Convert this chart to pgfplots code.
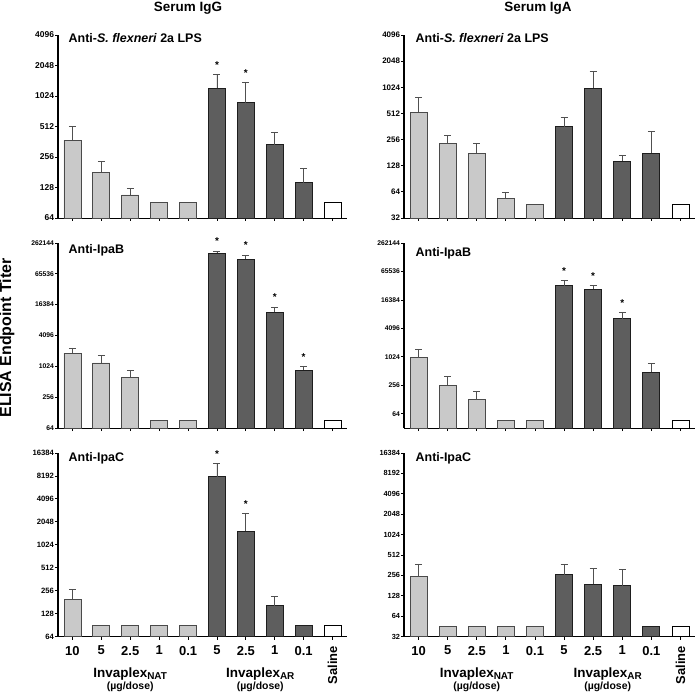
\documentclass[border=0pt]{standalone}
\usepackage{fontspec}
\setmainfont{Liberation Sans}
\usepackage{pgfplots}
\pgfplotsset{compat=1.18}
\definecolor{lightg}{HTML}{C9C9C9}
\definecolor{ledge}{HTML}{4A4A4A}
\definecolor{darkg}{HTML}{5E5E5E}
\definecolor{dedge}{HTML}{1E1E1E}
\definecolor{errc}{HTML}{505050}
\newcommand{\plab}{\fontsize{12.5}{12.5}\selectfont\bfseries}
\newcommand{\xlab}{\fontsize{13}{13}\selectfont\bfseries}
\newcommand{\ulab}{\fontsize{10.5}{11}\selectfont\bfseries}
\newcommand{\invlab}{\fontsize{13.5}{13.5}\selectfont\bfseries}
\begin{document}
\begin{tikzpicture}
\useasboundingbox (0,0) rectangle (696bp,-695bp);
\node[font=\fontsize{13.5}{13.5}\selectfont\bfseries] at (188bp,-8bp) {Serum IgG};
\node[font=\fontsize{13.5}{13.5}\selectfont\bfseries] at (538bp,-8bp) {Serum IgA};
\node[rotate=90, font=\fontsize{16}{16}\selectfont\bfseries] at (7bp,-338bp) {ELISA Endpoint Titer};

% ---------- Panel 1: IgG anti-LPS
\begin{axis}[scale only axis, anchor=south west, at={(58bp,-218bp)}, width=289bp, height=183bp,
  ymode=log, log basis y=2, log origin=infty, xmin=-0.5, xmax=9.5, ymin=64, ymax=4096,
  axis x line=bottom, axis y line=left, axis line style={-, line width=1pt, black},
  tick align=outside, major tick length=3bp, tick style={black, line width=0.8pt},
  xtick={0,...,9}, xticklabels={},
  ytick={64,128,256,512,1024,2048,4096},
  yticklabels={64,128,256,512,1024,2048,4096},
  yticklabel style={font=\fontsize{8.5}{9}\selectfont\bfseries, inner sep=0.8pt},
  clip=false]
\addplot[ybar, bar shift=0pt, bar width=17bp, fill=lightg, draw=ledge, line width=0.9pt,
  error bars/y dir=plus, error bars/y explicit,
  error bars/error bar style={errc, line width=0.9pt},
  error bars/error mark options={rotate=90, errc, line width=0.9pt, mark size=3.5bp}]
  coordinates {(0,375) +- (0,140) (1,180) +- (0,49) (2,108) +- (0,17)};
\addplot[ybar, bar shift=0pt, bar width=17bp, fill=lightg, draw=ledge, line width=0.9pt]
  coordinates {(3,90.5) (4,90.5)};
\addplot[ybar, bar shift=0pt, bar width=17bp, fill=darkg, draw=dedge, line width=0.9pt,
  error bars/y dir=plus, error bars/y explicit,
  error bars/error bar style={errc, line width=0.9pt},
  error bars/error mark options={rotate=90, errc, line width=0.9pt, mark size=3.5bp}]
  coordinates {(5,1218) +- (0,455) (6,880) +- (0,500) (7,340) +- (0,106) (8,143) +- (0,54)};
\addplot[ybar, bar shift=0pt, bar width=17bp, fill=white, draw=black, line width=0.9pt]
  coordinates {(9,90.5)};
\addplot[draw=none, mark=none, nodes near coords={*},
  every node near coord/.append style={anchor=south, inner sep=0pt, yshift=6bp, font=\fontsize{10}{10}\selectfont\bfseries}]
  coordinates {(5,1673) (6,1380)};
\node[anchor=west, font=\plab] at (rel axis cs:0.025,0.985) {Anti-\textit{S. flexneri} 2a LPS};
\draw[line width=1.1pt, black] (axis cs:-0.5,64) -- (axis cs:-0.5,4096);
\end{axis}

% ---------- Panel 2: IgA anti-LPS
\begin{axis}[scale only axis, anchor=south west, at={(404bp,-218bp)}, width=291bp, height=183bp,
  ymode=log, log basis y=2, log origin=infty, xmin=-0.5, xmax=9.5, ymin=32, ymax=4096,
  axis x line=bottom, axis y line=left, axis line style={-, line width=1pt, black},
  tick align=outside, major tick length=3bp, tick style={black, line width=0.8pt},
  xtick={0,...,9}, xticklabels={},
  ytick={32,64,128,256,512,1024,2048,4096},
  yticklabels={32,64,128,256,512,1024,2048,4096},
  yticklabel style={font=\fontsize{8}{8.5}\selectfont\bfseries, inner sep=0.8pt},
  clip=false]
\addplot[ybar, bar shift=0pt, bar width=17bp, fill=lightg, draw=ledge, line width=0.9pt,
  error bars/y dir=plus, error bars/y explicit,
  error bars/error bar style={errc, line width=0.9pt},
  error bars/error mark options={rotate=90, errc, line width=0.9pt, mark size=3.5bp}]
  coordinates {(0,526) +- (0,256) (1,233) +- (0,55) (2,179) +- (0,50) (3,54) +- (0,9)};
\addplot[ybar, bar shift=0pt, bar width=17bp, fill=lightg, draw=ledge, line width=0.9pt]
  coordinates {(4,45.25)};
\addplot[ybar, bar shift=0pt, bar width=17bp, fill=darkg, draw=dedge, line width=0.9pt,
  error bars/y dir=plus, error bars/y explicit,
  error bars/error bar style={errc, line width=0.9pt},
  error bars/error mark options={rotate=90, errc, line width=0.9pt, mark size=3.5bp}]
  coordinates {(5,362) +- (0,103) (6,1002) +- (0,543) (7,145) +- (0,22) (8,179) +- (0,139)};
\addplot[ybar, bar shift=0pt, bar width=17bp, fill=white, draw=black, line width=0.9pt]
  coordinates {(9,45.25)};
\node[anchor=west, font=\plab] at (rel axis cs:0.028,0.985) {Anti-\textit{S. flexneri} 2a LPS};
\draw[line width=1.1pt, black] (axis cs:-0.5,32) -- (axis cs:-0.5,4096);
\end{axis}

% ---------- Panel 3: IgG anti-IpaB
\begin{axis}[scale only axis, anchor=south west, at={(58bp,-428bp)}, width=289bp, height=185bp,
  ymode=log, log basis y=2, log origin=infty, xmin=-0.5, xmax=9.5, ymin=64, ymax=262144,
  axis x line=bottom, axis y line=left, axis line style={-, line width=1pt, black},
  tick align=outside, major tick length=3bp, tick style={black, line width=0.8pt},
  xtick={0,...,9}, xticklabels={},
  ytick={64,256,1024,4096,16384,65536,262144},
  yticklabels={64,256,1024,4096,16384,65536,262144},
  yticklabel style={font=\fontsize{6.8}{7}\selectfont\bfseries, inner sep=0.8pt},
  clip=false]
\addplot[ybar, bar shift=0pt, bar width=17bp, fill=lightg, draw=ledge, line width=0.9pt,
  error bars/y dir=plus, error bars/y explicit,
  error bars/error bar style={errc, line width=0.9pt},
  error bars/error mark options={rotate=90, errc, line width=0.9pt, mark size=3.5bp}]
  coordinates {(0,1862) +- (0,474) (1,1190) +- (0,464) (2,625) +- (0,219)};
\addplot[ybar, bar shift=0pt, bar width=17bp, fill=lightg, draw=ledge, line width=0.9pt]
  coordinates {(3,90.5) (4,90.5)};
\addplot[ybar, bar shift=0pt, bar width=17bp, fill=darkg, draw=dedge, line width=0.9pt,
  error bars/y dir=plus, error bars/y explicit,
  error bars/error bar style={errc, line width=0.9pt},
  error bars/error mark options={rotate=90, errc, line width=0.9pt, mark size=3.5bp}]
  coordinates {(5,167000) +- (0,15800) (6,127500) +- (0,25100) (7,11590) +- (0,3140) (8,868) +- (0,156)};
\addplot[ybar, bar shift=0pt, bar width=17bp, fill=white, draw=black, line width=0.9pt]
  coordinates {(9,90.5)};
\addplot[draw=none, mark=none, nodes near coords={*},
  every node near coord/.append style={anchor=south, inner sep=0pt, yshift=6bp, font=\fontsize{10}{10}\selectfont\bfseries}]
  coordinates {(5,182800) (6,152600) (7,14730) (8,1024)};
\node[anchor=west, font=\plab] at (rel axis cs:0.025,0.96) {Anti-IpaB};
\draw[line width=1.1pt, black] (axis cs:-0.5,64) -- (axis cs:-0.5,262144);
\end{axis}

% ---------- Panel 4: IgA anti-IpaB
\begin{axis}[scale only axis, anchor=south west, at={(404bp,-428bp)}, width=291bp, height=185bp,
  ymode=log, log basis y=2, log origin=infty, xmin=-0.5, xmax=9.5, ymin=32, ymax=262144,
  axis x line=bottom, axis y line=left, axis line style={-, line width=1pt, black},
  tick align=outside, major tick length=3bp, tick style={black, line width=0.8pt},
  xtick={0,...,9}, xticklabels={},
  ytick={64,256,1024,4096,16384,65536,262144},
  yticklabels={64,256,1024,4096,16384,65536,262144},
  yticklabel style={font=\fontsize{6.8}{7}\selectfont\bfseries, inner sep=0.8pt},
  clip=false]
\addplot[ybar, bar shift=0pt, bar width=17bp, fill=lightg, draw=ledge, line width=0.9pt,
  error bars/y dir=plus, error bars/y explicit,
  error bars/error bar style={errc, line width=0.9pt},
  error bars/error mark options={rotate=90, errc, line width=0.9pt, mark size=3.5bp}]
  coordinates {(0,982) +- (0,496) (1,254) +- (0,134) (2,126) +- (0,60)};
\addplot[ybar, bar shift=0pt, bar width=17bp, fill=lightg, draw=ledge, line width=0.9pt]
  coordinates {(3,45.25) (4,45.25)};
\addplot[ybar, bar shift=0pt, bar width=17bp, fill=darkg, draw=dedge, line width=0.9pt,
  error bars/y dir=plus, error bars/y explicit,
  error bars/error bar style={errc, line width=0.9pt},
  error bars/error mark options={rotate=90, errc, line width=0.9pt, mark size=3.5bp}]
  coordinates {(5,32768) +- (0,8992) (6,27800) +- (0,4968) (7,6630) +- (0,2260) (8,480) +- (0,253)};
\addplot[ybar, bar shift=0pt, bar width=17bp, fill=white, draw=black, line width=0.9pt]
  coordinates {(9,45.25)};
\addplot[draw=none, mark=none, nodes near coords={*},
  every node near coord/.append style={anchor=south, inner sep=0pt, yshift=6bp, font=\fontsize{10}{10}\selectfont\bfseries}]
  coordinates {(5,41760) (6,32768) (7,8890)};
\node[anchor=west, font=\plab] at (rel axis cs:0.028,0.945) {Anti-IpaB};
\draw[line width=1.1pt, black] (axis cs:-0.5,32) -- (axis cs:-0.5,262144);
\end{axis}

% ---------- Panel 5: IgG anti-IpaC
\begin{axis}[scale only axis, anchor=south west, at={(58bp,-636.5bp)}, width=289bp, height=183.5bp,
  ymode=log, log basis y=2, log origin=infty, xmin=-0.5, xmax=9.5, ymin=64, ymax=16384,
  axis x line=bottom, axis y line=left, axis line style={-, line width=1pt, black},
  tick align=outside, major tick length=3bp, tick style={black, line width=0.8pt},
  xtick={0,...,8}, xticklabels={10,5,2.5,1,0.1,5,2.5,1,0.1},
  xticklabel style={font=\xlab, yshift=-3bp},
  extra x ticks={9}, extra x tick labels={Saline},
  extra x tick style={xticklabel style={rotate=90, anchor=east, font=\xlab}},
  ytick={64,128,256,512,1024,2048,4096,8192,16384},
  yticklabels={64,128,256,512,1024,2048,4096,8192,16384},
  yticklabel style={font=\fontsize{7.7}{8}\selectfont\bfseries, inner sep=0.8pt},
  clip=false]
\addplot[ybar, bar shift=0pt, bar width=17bp, fill=lightg, draw=ledge, line width=0.9pt,
  error bars/y dir=plus, error bars/y explicit,
  error bars/error bar style={errc, line width=0.9pt},
  error bars/error mark options={rotate=90, errc, line width=0.9pt, mark size=3.5bp}]
  coordinates {(0,199) +- (0,64)};
\addplot[ybar, bar shift=0pt, bar width=17bp, fill=lightg, draw=ledge, line width=0.9pt]
  coordinates {(1,90.5) (2,90.5) (3,90.5) (4,90.5)};
\addplot[ybar, bar shift=0pt, bar width=17bp, fill=darkg, draw=dedge, line width=0.9pt,
  error bars/y dir=plus, error bars/y explicit,
  error bars/error bar style={errc, line width=0.9pt},
  error bars/error mark options={rotate=90, errc, line width=0.9pt, mark size=3.5bp}]
  coordinates {(5,8020) +- (0,3750) (6,1544) +- (0,1061) (7,163) +- (0,52)};
\addplot[ybar, bar shift=0pt, bar width=17bp, fill=darkg, draw=dedge, line width=0.9pt]
  coordinates {(8,90.5)};
\addplot[ybar, bar shift=0pt, bar width=17bp, fill=white, draw=black, line width=0.9pt]
  coordinates {(9,90.5)};
\addplot[draw=none, mark=none, nodes near coords={*},
  every node near coord/.append style={anchor=south, inner sep=0pt, yshift=6bp, font=\fontsize{10}{10}\selectfont\bfseries}]
  coordinates {(5,11770) (6,2605)};
\node[anchor=west, font=\plab] at (rel axis cs:0.025,0.97) {Anti-IpaC};
\node[anchor=base, font=\invlab] at ([yshift=-40.5bp]axis cs:2,64) {Invaplex\raisebox{-0.35ex}{\fontsize{10}{10}\selectfont NAT}};
\node[anchor=base, font=\ulab] at ([yshift=-53bp]axis cs:2,64) {(µg/dose)};
\node[anchor=base, font=\invlab] at ([yshift=-40.5bp]axis cs:6.5,64) {Invaplex\raisebox{-0.35ex}{\fontsize{10}{10}\selectfont AR}};
\node[anchor=base, font=\ulab] at ([yshift=-53bp]axis cs:6.5,64) {(µg/dose)};
\draw[line width=1.1pt, black] (axis cs:-0.5,64) -- (axis cs:-0.5,16384);
\end{axis}

% ---------- Panel 6: IgA anti-IpaC
\begin{axis}[scale only axis, anchor=south west, at={(404bp,-636.5bp)}, width=291bp, height=183.5bp,
  ymode=log, log basis y=2, log origin=infty, xmin=-0.5, xmax=9.5, ymin=32, ymax=16384,
  axis x line=bottom, axis y line=left, axis line style={-, line width=1pt, black},
  tick align=outside, major tick length=3bp, tick style={black, line width=0.8pt},
  xtick={0,...,8}, xticklabels={10,5,2.5,1,0.1,5,2.5,1,0.1},
  xticklabel style={font=\xlab, yshift=-3bp},
  extra x ticks={9}, extra x tick labels={Saline},
  extra x tick style={xticklabel style={rotate=90, anchor=east, font=\xlab}},
  ytick={32,64,128,256,512,1024,2048,4096,8192,16384},
  yticklabels={32,64,128,256,512,1024,2048,4096,8192,16384},
  yticklabel style={font=\fontsize{7.4}{8}\selectfont\bfseries, inner sep=0.8pt},
  clip=false]
\addplot[ybar, bar shift=0pt, bar width=17bp, fill=lightg, draw=ledge, line width=0.9pt,
  error bars/y dir=plus, error bars/y explicit,
  error bars/error bar style={errc, line width=0.9pt},
  error bars/error mark options={rotate=90, errc, line width=0.9pt, mark size=3.5bp}]
  coordinates {(0,245) +- (0,132)};
\addplot[ybar, bar shift=0pt, bar width=17bp, fill=lightg, draw=ledge, line width=0.9pt]
  coordinates {(1,45.25) (2,45.25) (3,45.25) (4,45.25)};
\addplot[ybar, bar shift=0pt, bar width=17bp, fill=darkg, draw=dedge, line width=0.9pt,
  error bars/y dir=plus, error bars/y explicit,
  error bars/error bar style={errc, line width=0.9pt},
  error bars/error mark options={rotate=90, errc, line width=0.9pt, mark size=3.5bp}]
  coordinates {(5,260) +- (0,117) (6,189) +- (0,137) (7,181) +- (0,134)};
\addplot[ybar, bar shift=0pt, bar width=17bp, fill=darkg, draw=dedge, line width=0.9pt]
  coordinates {(8,45.25)};
\addplot[ybar, bar shift=0pt, bar width=17bp, fill=white, draw=black, line width=0.9pt]
  coordinates {(9,45.25)};
\node[anchor=west, font=\plab] at (rel axis cs:0.028,0.97) {Anti-IpaC};
\node[anchor=base, font=\invlab] at ([yshift=-40.5bp]axis cs:2,32) {Invaplex\raisebox{-0.35ex}{\fontsize{10}{10}\selectfont NAT}};
\node[anchor=base, font=\ulab] at ([yshift=-53bp]axis cs:2,32) {(µg/dose)};
\node[anchor=base, font=\invlab] at ([yshift=-40.5bp]axis cs:6.5,32) {Invaplex\raisebox{-0.35ex}{\fontsize{10}{10}\selectfont AR}};
\node[anchor=base, font=\ulab] at ([yshift=-53bp]axis cs:6.5,32) {(µg/dose)};
\draw[line width=1.1pt, black] (axis cs:-0.5,32) -- (axis cs:-0.5,16384);
\end{axis}
\end{tikzpicture}
\end{document}
